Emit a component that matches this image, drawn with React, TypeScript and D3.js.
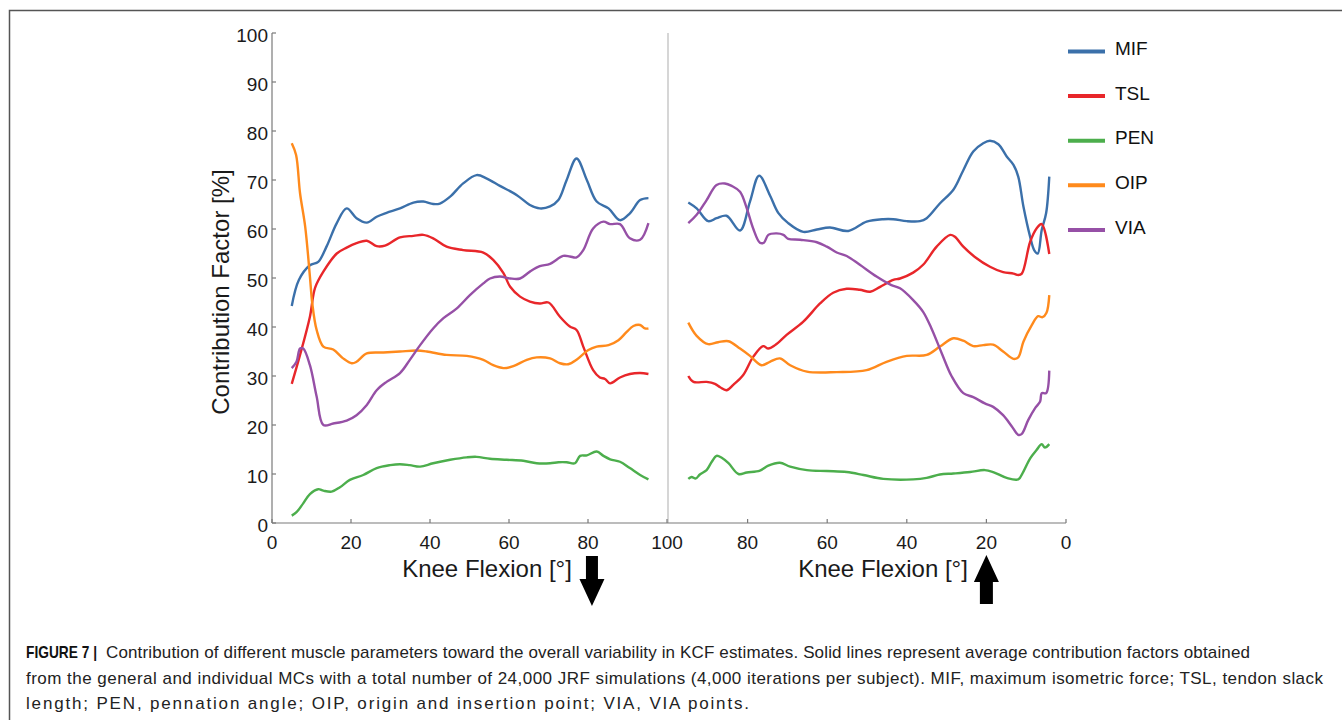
import React, { useEffect, useRef } from 'react';
import * as d3 from 'd3';

// [knee flexion deg, contribution %]
const mifLeft = [[5,44.3],[6.8,49.6],[9.6,52.6],[11.7,53.3],[13.8,56.4],[16.4,61.2],[18.9,64.2],[21.4,62.2],[24,61.3],[26.5,62.5],[29,63.3],[32.4,64.2],[35.8,65.4],[38.3,65.6],[40.8,65.1],[42.5,65.2],[45.1,66.6],[48.4,69.3],[51.8,71.0],[54.4,70.3],[57.7,68.8],[62,66.9],[65.3,64.9],[67.8,64.2],[70.4,64.6],[72.5,65.9],[74.6,70.0],[77.1,74.4],[79.7,70.0],[82.2,65.6],[85.2,64.2],[88.1,61.8],[90.6,63.2],[93.2,65.9],[95.3,66.3]];
const tslLeft = [[5,28.4],[7.1,34.3],[9.6,42.1],[10.9,48.0],[13,51.3],[16.4,55.0],[18.9,56.2],[21.4,57.1],[24,57.6],[26.5,56.5],[28.6,56.6],[32.4,58.3],[35.8,58.6],[38.3,58.8],[40.8,58.1],[44.2,56.4],[48.4,55.7],[53.5,55.2],[56,53.7],[58.6,51.0],[60.3,48.2],[62.8,46.2],[65.3,45.2],[67.8,44.8],[70,45.0],[72.9,42.1],[75.4,40.1],[77.1,39.4],[78.8,36.0],[81.3,31.2],[83,29.7],[84.3,29.4],[85.6,28.5],[88.1,29.7],[90.6,30.4],[93.2,30.6],[95.3,30.4]];
const penLeft = [[5,1.5],[6.2,2.2],[7.9,4.0],[9.6,5.9],[11.7,6.9],[13,6.6],[15.1,6.4],[17.2,7.3],[19.7,8.8],[23.1,9.8],[26.5,11.2],[29.9,11.8],[32.4,12.0],[34.9,11.8],[37.5,11.5],[40.8,12.2],[45.1,12.9],[49.3,13.4],[51.8,13.5],[55.2,13.1],[59.4,12.9],[63.6,12.7],[67,12.2],[70.4,12.2],[72.5,12.4],[74.6,12.4],[76.7,12.2],[78,13.7],[79.7,13.8],[82.2,14.6],[83.9,13.7],[85.6,13.0],[88.1,12.5],[90.6,11.2],[93.2,9.8],[95.3,8.9]];
const oipLeft = [[5,77.5],[6.1,75.1],[7.1,67.3],[8.4,60.5],[9.6,50.3],[10.2,44.8],[11.3,39.4],[13,36.0],[15.5,35.4],[18,33.6],[20.2,32.6],[21.4,32.9],[24,34.6],[28.2,34.8],[32.4,35.0],[36.6,35.2],[39.2,35.0],[44.2,34.3],[49.3,34.1],[53.5,33.3],[56,32.2],[58.6,31.6],[61.1,32.0],[64.5,33.3],[67,33.8],[70.4,33.6],[72.9,32.6],[75,32.4],[77.1,33.3],[80.1,35.3],[82.2,36.0],[85.2,36.3],[87.7,37.3],[89.8,39.0],[91.5,40.2],[93.2,40.4],[94.4,39.7],[95.3,39.7]];
const viaLeft = [[5,31.6],[6.2,32.9],[7.1,35.6],[7.9,35.6],[9.6,32.2],[11.3,25.8],[13,20.0],[15.5,20.3],[18.9,20.9],[21.4,22.0],[24,24.1],[26.5,27.1],[29,28.8],[32.4,30.6],[34.9,33.3],[37.5,36.3],[40.8,39.7],[43.4,41.8],[46.8,43.8],[50.1,46.5],[53.5,48.9],[55.2,49.9],[57.7,50.3],[60.3,49.9],[62.8,49.9],[65.3,51.3],[67.8,52.4],[70.4,52.9],[73.7,54.5],[75.4,54.4],[77.1,54.2],[78.8,55.7],[81.3,60.1],[83.9,61.5],[85.6,61.0],[88.1,61.0],[90.6,58.1],[93.2,57.8],[95.3,61.2]];

const mifRight = [[94.9,65.4],[92.8,64.2],[89.9,61.6],[87.8,62.2],[85.3,62.7],[81.9,59.7],[79.4,65.6],[77.1,70.9],[74.4,66.9],[72.3,63.3],[69.8,61.2],[66,59.4],[62.6,59.9],[59.3,60.3],[54.7,59.6],[50.1,61.5],[45.9,62.0],[43.4,62.0],[40,61.6],[36.7,61.6],[35,62.2],[31.7,65.2],[28.3,68.0],[25.8,72.0],[23.3,75.8],[20.8,77.5],[19.1,78.0],[17,77.3],[14.9,74.8],[13.2,73.1],[12,70.7],[10.7,64.6],[9,58.4],[8,55.7],[7.1,55.0],[6.1,59.8],[5,63.2],[4.2,70.7]];
const tslRight = [[94.9,30.0],[93.6,28.8],[90.3,28.8],[88.2,28.4],[86.9,27.7],[85.3,27.1],[83.6,28.2],[81.1,30.2],[78.6,33.9],[76.1,36.1],[74.8,35.6],[73.1,36.3],[70.2,38.4],[66,41.1],[61.8,44.8],[58.5,47.0],[55.1,47.8],[51.8,47.6],[49.2,47.2],[46.7,48.2],[43.4,49.6],[41.7,49.9],[38.4,51.1],[35.9,52.7],[32.5,56.4],[29.1,58.8],[27.9,58.4],[25.8,56.4],[22.9,54.3],[19.1,52.3],[15.8,51.2],[13.2,50.9],[12,50.6],[11.1,50.9],[9,57.4],[7.4,60.1],[6.1,61.0],[4.2,54.9]];
const penRight = [[94.9,9.0],[94.1,9.4],[93,9.1],[92,9.9],[90.3,10.8],[89,12.5],[87.8,13.7],[86.5,13.3],[84.8,12.2],[82.3,10.0],[80.2,10.3],[76.9,10.7],[74.8,11.7],[71.9,12.3],[69.3,11.5],[65.1,10.8],[60.1,10.6],[55.1,10.4],[50.9,9.8],[45.9,9.0],[38.4,8.9],[35,9.2],[31.7,9.9],[28.3,10.1],[24.1,10.4],[20.4,10.8],[18.3,10.4],[14.9,9.2],[12,8.9],[10.7,10.5],[9,13.2],[7.4,14.9],[6.1,16.1],[5.3,15.4],[4.2,16.1]];
const oipRight = [[94.9,40.9],[92.8,38.2],[89.9,36.5],[87.4,36.9],[84.8,37.1],[81.9,35.6],[79.4,34.1],[76.5,32.2],[74.4,32.9],[71.9,33.6],[69.3,32.2],[65.1,30.9],[57.6,30.8],[50.1,31.2],[45.1,32.9],[40,34.1],[35,34.3],[31.7,36.0],[28.3,37.7],[25.8,37.2],[23.3,36.1],[20.8,36.3],[18.3,36.4],[15.8,35.0],[13.2,33.5],[12,33.8],[10.7,37.0],[8.6,40.4],[7,42.2],[5.9,42.0],[4.9,42.9],[4.2,46.5]];
const viaRight = [[94.9,61.2],[92.8,62.9],[90.3,65.9],[87.8,69.0],[85.7,69.3],[84,68.8],[81.9,67.6],[80.2,64.2],[78.6,60.1],[76.9,57.2],[75.9,57.2],[74.8,58.8],[72.7,59.1],[71,58.8],[69.8,58.0],[66.8,57.8],[62.6,57.3],[60.1,56.4],[57.6,55.2],[55.1,54.5],[51.8,52.7],[47.6,50.3],[44,48.6],[41.7,47.9],[38.4,45.5],[35.9,43.1],[33.8,39.7],[31.2,34.6],[28.7,29.9],[25.8,26.5],[23.3,25.7],[20.4,24.4],[18.3,23.7],[15.8,22.0],[13.6,19.7],[12,18.0],[11.1,18.2],[9.5,21.0],[7.8,23.4],[6.5,24.8],[6.1,26.5],[5,26.5],[4.2,31.1]];

const seriesNames = ['MIF', 'TSL', 'PEN', 'OIP', 'VIA'];
const seriesColors = ['#3b70aa', '#e8262a', '#4cae4c', '#ff8a1c', '#9650a6'];
const leftSeries = [mifLeft, tslLeft, penLeft, oipLeft, viaLeft];
const rightSeries = [mifRight, tslRight, penRight, oipRight, viaRight];

const yTicks = [0, 10, 20, 30, 40, 50, 60, 70, 80, 90, 100];
const leftXTicks = [0, 20, 40, 60, 80, 100];
const rightXTicks = [100, 80, 60, 40, 20, 0];

const captionLabel = 'FIGURE 7 |';
const captionLines = [
  'Contribution of different muscle parameters toward the overall variability in KCF estimates. Solid lines represent average contribution factors obtained',
  'from the general and individual MCs with a total number of 24,000 JRF simulations (4,000 iterations per subject). MIF, maximum isometric force; TSL, tendon slack',
  'length; PEN, pennation angle; OIP, origin and insertion point; VIA, VIA points.',
];
// right edge of each caption line in the page
const captionEnds = [1250, 1323, 749];

const W = 1342;
const H = 720;
const font = '"Liberation Sans", Arial, Helvetica, sans-serif';

export default function App() {
  const ref = useRef<SVGSVGElement>(null);

  useEffect(() => {
    const svg = d3.select(ref.current);
    svg.selectAll('*').remove();

    const xL = d3.scaleLinear().domain([0, 100]).range([272, 667]);
    const xR = d3.scaleLinear().domain([100, 0]).range([668, 1066]);
    const y = d3.scaleLinear().domain([0, 100]).range([523, 33]);

    // figure frame
    svg.append('path')
      .attr('d', `M9.5,${H + 5} L9.5,10.5 L${W + 5},10.5`)
      .attr('fill', 'none')
      .attr('stroke', '#555')
      .attr('stroke-width', 1.5);

    const axisColor = '#7a7a7a';

    // divider between panels
    svg.append('line')
      .attr('x1', xR(100)).attr('x2', xR(100))
      .attr('y1', y(100)).attr('y2', y(0))
      .attr('stroke', '#c8c8c8')
      .attr('stroke-width', 1.5);

    // y axis
    svg.append('line')
      .attr('x1', xL(0)).attr('x2', xL(0))
      .attr('y1', y(100)).attr('y2', y(0))
      .attr('stroke', axisColor).attr('stroke-width', 1.2);
    yTicks.forEach(t => {
      svg.append('line')
        .attr('x1', xL(0)).attr('x2', xL(0) + 4)
        .attr('y1', y(t)).attr('y2', y(t))
        .attr('stroke', axisColor).attr('stroke-width', 1.2);
      svg.append('text')
        .attr('x', xL(0) - 4)
        .attr('y', y(t) + 8.5)
        .attr('text-anchor', 'end')
        .style('font-family', font)
        .style('font-size', '19px')
        .style('fill', '#1a1a1a')
        .text(t);
    });

    // x axis
    svg.append('line')
      .attr('x1', xL(0)).attr('x2', xR(0))
      .attr('y1', y(0)).attr('y2', y(0))
      .attr('stroke', axisColor).attr('stroke-width', 1.2);
    leftXTicks.forEach(t => {
      svg.append('line')
        .attr('x1', xL(t)).attr('x2', xL(t))
        .attr('y1', y(0)).attr('y2', y(0) - 4)
        .attr('stroke', axisColor).attr('stroke-width', 1.2);
      svg.append('text')
        .attr('x', xL(t))
        .attr('y', 549)
        .attr('text-anchor', 'middle')
        .style('font-family', font)
        .style('font-size', '19px')
        .style('fill', '#1a1a1a')
        .text(t);
    });
    rightXTicks.slice(1).forEach(t => {
      svg.append('line')
        .attr('x1', xR(t)).attr('x2', xR(t))
        .attr('y1', y(0)).attr('y2', y(0) - 4)
        .attr('stroke', axisColor).attr('stroke-width', 1.2);
      svg.append('text')
        .attr('x', xR(t))
        .attr('y', 549)
        .attr('text-anchor', 'middle')
        .style('font-family', font)
        .style('font-size', '19px')
        .style('fill', '#1a1a1a')
        .text(t);
    });

    // axis titles
    svg.append('text')
      .attr('transform', 'translate(228.5, 292) rotate(-90)')
      .attr('text-anchor', 'middle')
      .style('font-family', font)
      .style('font-size', '24px')
      .style('fill', '#1a1a1a')
      .text('Contribution Factor [%]');
    [487, 883].forEach(cx => {
      svg.append('text')
        .attr('x', cx)
        .attr('y', 577)
        .attr('text-anchor', 'middle')
        .style('font-family', font)
        .style('font-size', '24px')
        .style('fill', '#1a1a1a')
        .text('Knee Flexion [°]');
    });

    // lines
    const lineL = d3.line<number[]>()
      .x(d => xL(d[0]))
      .y(d => y(d[1]))
      .curve(d3.curveCatmullRom.alpha(0.5));
    const lineR = d3.line<number[]>()
      .x(d => xR(d[0]))
      .y(d => y(d[1]))
      .curve(d3.curveCatmullRom.alpha(0.5));

    seriesNames.forEach((_, i) => {
      svg.append('path')
        .attr('d', lineL(leftSeries[i]))
        .attr('fill', 'none')
        .attr('stroke', seriesColors[i])
        .attr('stroke-width', 2.4)
        .attr('stroke-linejoin', 'round');
      svg.append('path')
        .attr('d', lineR(rightSeries[i]))
        .attr('fill', 'none')
        .attr('stroke', seriesColors[i])
        .attr('stroke-width', 2.4)
        .attr('stroke-linejoin', 'round');
    });

    // legend
    seriesNames.forEach((name, i) => {
      const ly = 51.5 + i * 44.6;
      svg.append('line')
        .attr('x1', 1068).attr('x2', 1105)
        .attr('y1', ly).attr('y2', ly)
        .attr('stroke', seriesColors[i])
        .attr('stroke-width', 4);
      svg.append('text')
        .attr('x', 1115)
        .attr('y', ly + 3.7)
        .style('font-family', font)
        .style('font-size', '19px')
        .style('fill', '#111')
        .text(name);
    });

    // arrows: flexion (down) and extension (up)
    const ax1 = xL(81);
    svg.append('path')
      .attr('d', `M${ax1 - 6},556 L${ax1 + 6},556 L${ax1 + 6},579 L${ax1 + 12.5},579 L${ax1},606 L${ax1 - 12.5},579 L${ax1 - 6},579 Z`)
      .attr('fill', '#000');
    const ax2 = xR(20);
    svg.append('path')
      .attr('d', `M${ax2},555 L${ax2 + 12.5},582 L${ax2 + 6.5},582 L${ax2 + 6.5},604 L${ax2 - 6.5},604 L${ax2 - 6.5},582 L${ax2 - 12.5},582 Z`)
      .attr('fill', '#000');

    // caption
    const cap = svg.append('g')
      .style('font-family', font)
      .style('font-size', '17px')
      .style('fill', '#222');
    cap.append('text')
      .attr('x', 26)
      .attr('y', 658)
      .attr('textLength', 71)
      .attr('lengthAdjust', 'spacingAndGlyphs')
      .style('font-weight', 'bold')
      .style('fill', '#111')
      .text(captionLabel);
    captionLines.forEach((line, i) => {
      const x0 = i === 0 ? 106 : 26;
      cap.append('text')
        .attr('x', x0)
        .attr('y', 658 + i * 25.5)
        .attr('textLength', captionEnds[i] - x0)
        .attr('lengthAdjust', 'spacing')
        .text(line);
    });
  }, []);

  return (
    <svg
      ref={ref}
      width={W}
      height={H}
      style={{ position: 'absolute', left: 0, top: 0, background: '#fff' }}
    />
  );
}
